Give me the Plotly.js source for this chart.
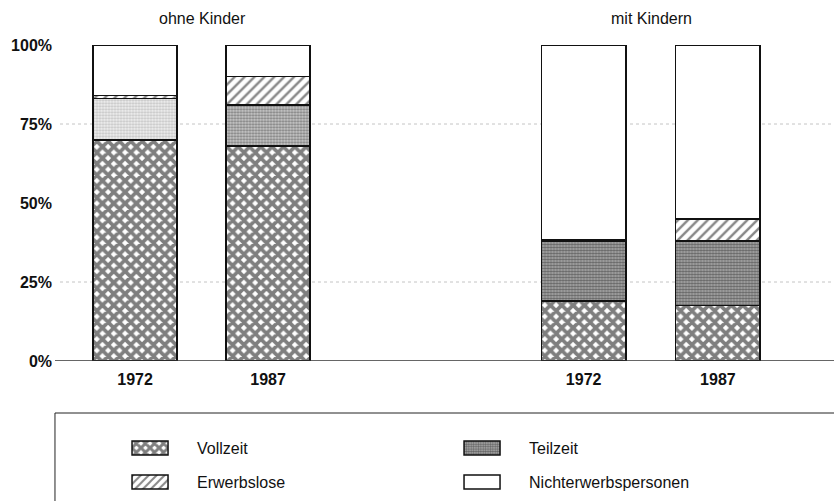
<!DOCTYPE html>
<html>
<head>
<meta charset="utf-8">
<script src="https://cdn.plot.ly/plotly-3.0.1.min.js"></script>
<style>html,body{margin:0;padding:0;background:#fff;}#chart{width:834px;height:501px;}</style>
</head>
<body>
<div id="chart"></div>
<script>
// ---- data ----
var years = ['1972', '1987'];
var groups = ['ohne Kinder', 'mit Kindern'];
var categories = ['Vollzeit', 'Teilzeit', 'Erwerbslose', 'Nichterwerbspersonen'];
var ohneVollzeit = [70, 68];
var ohneTeilzeit = [13, 13];
var ohneErwerbslose = [1, 9];
var ohneNichterwerb = [16, 10];
var mitVollzeit = [19, 17.5];
var mitTeilzeit = [19, 20.5];
var mitErwerbslose = [0.5, 7];
var mitNichterwerb = [61.5, 55];
var yTicks = [0, 25, 50, 75, 100];
var yTickText = ['0%', '25%', '50%', '75%', '100%'];
var gridVals = [25, 75];

// ---- styles ----
var FONT = 'Liberation Sans, Arial, sans-serif';
var outline = {color: '#111', width: 1.5};
var patterns = {
  'Vollzeit': {shape: 'x', size: 8, solidity: 0.72, fgcolor: '#000', bgcolor: '#fff', fillmode: 'overlay'},
  'Teilzeit': {shape: '.', size: 3, solidity: 0.55, fgcolor: '#1a1a1a', bgcolor: '#b0b0b0', fillmode: 'overlay'},
  'Erwerbslose': {shape: '/', size: 7, solidity: 0.35, fgcolor: '#111', bgcolor: '#fff', fillmode: 'overlay'},
  'Nichterwerbspersonen': {shape: '', fgcolor: '#fff', bgcolor: '#fff'}
};
var teilzeitOhne = {shape: '.', size: 3, solidity: 0.45, fgcolor: ['#999', '#333'], bgcolor: ['#efefef', '#c8c8c8'], fillmode: 'overlay'};
var legendOf = {'Vollzeit': 'legend', 'Teilzeit': 'legend', 'Erwerbslose': 'legend2', 'Nichterwerbspersonen': 'legend2'};

var seriesOhne = [ohneVollzeit, ohneTeilzeit, ohneErwerbslose, ohneNichterwerb];
var seriesMit = [mitVollzeit, mitTeilzeit, mitErwerbslose, mitNichterwerb];

var traces = [];
categories.forEach(function (cat, i) {
  traces.push({
    type: 'bar', name: cat, x: years, y: seriesOhne[i], xaxis: 'x', yaxis: 'y',
    legendgroup: cat, showlegend: false,
    marker: {color: '#fff', line: outline, pattern: (cat === 'Teilzeit' ? teilzeitOhne : patterns[cat])},
    hoverinfo: 'name+y'
  });
});
categories.forEach(function (cat, i) {
  traces.push({
    type: 'bar', name: cat, x: years, y: seriesMit[i], xaxis: 'x2', yaxis: 'y',
    legendgroup: cat, showlegend: true, legend: legendOf[cat],
    marker: {color: '#fff', line: outline, pattern: patterns[cat]},
    hoverinfo: 'name+y'
  });
});

var shapes = [];
gridVals.forEach(function (v) {
  shapes.push({type: 'line', xref: 'paper', yref: 'y', x0: 0, x1: 1, y0: v, y1: v,
    layer: 'below', line: {color: '#c4c4c4', width: 1, dash: 'dot'}});
});
// baseline
shapes.push({type: 'line', xref: 'paper', yref: 'y', x0: -0.0065, x1: 1, y0: 0, y1: 0,
  layer: 'above', line: {color: '#333', width: 1.5}});
// legend frame (open to right/bottom edges)
shapes.push({type: 'rect', xref: 'paper', yref: 'paper', x0: -0.0065, x1: 1.02, y0: -0.1646, y1: -0.6,
  line: {color: '#222', width: 1}, fillcolor: 'rgba(0,0,0,0)'});

var legendBase = {
  orientation: 'h', xanchor: 'left', yanchor: 'middle', x: 0.0556,
  bgcolor: 'rgba(0,0,0,0)', borderwidth: 0, itemwidth: 84, entrywidth: 233,
  font: {family: FONT, size: 16, color: '#111'}, itemclick: false, itemdoubleclick: false
};
var legend1 = Object.assign({}, legendBase, {y: -0.2753});
var legend2 = Object.assign({}, legendBase, {y: -0.3829});

var axisX = {
  type: 'category', categoryorder: 'array', categoryarray: years,
  showline: false, showgrid: false, zeroline: false, ticks: '',
  tickfont: {family: FONT, size: 16, color: '#111', weight: 'bold'}, ticklabelstandoff: 7,
  anchor: 'y', fixedrange: true
};

var layout = {
  width: 834, height: 501,
  margin: {l: 60, r: 0, t: 45, b: 140, pad: 0},
  paper_bgcolor: '#fff', plot_bgcolor: 'rgba(0,0,0,0)',
  barmode: 'stack', bargap: 0.37,
  font: {family: FONT, size: 16, color: '#111'},
  xaxis: Object.assign({}, axisX, {domain: [0.011, 0.3547]}),
  xaxis2: Object.assign({}, axisX, {domain: [0.5898, 0.9367]}),
  yaxis: {
    range: [0, 100], anchor: 'free', position: 0, tickmode: 'array', tickvals: yTicks, ticktext: yTickText,
    showgrid: false, zeroline: false, showline: false, ticks: '',
    tickfont: {family: FONT, size: 16, color: '#111', weight: 'bold'}, ticklabelstandoff: 8,
    fixedrange: true
  },
  showlegend: true,
  legend: legend1,
  legend2: legend2,
  shapes: shapes,
  annotations: [
    {text: groups[0], xref: 'paper', yref: 'paper', x: 0.1835, y: 1.0854, xanchor: 'center', yanchor: 'middle',
      showarrow: false, font: {family: FONT, size: 16, color: '#111'}},
    {text: groups[1], xref: 'paper', yref: 'paper', x: 0.7636, y: 1.0854, xanchor: 'center', yanchor: 'middle',
      showarrow: false, font: {family: FONT, size: 16, color: '#111'}}
  ]
};

Plotly.newPlot('chart', traces, layout, {displayModeBar: false, staticPlot: true}).then(function (gd) {
  // widen legend swatches to match the original key boxes
  var paths = gd.querySelectorAll('g.legendpoints path');
  paths.forEach(function (p) { p.setAttribute('d', 'M18,7H-18V-7H18Z'); });
});
</script>
</body>
</html>
